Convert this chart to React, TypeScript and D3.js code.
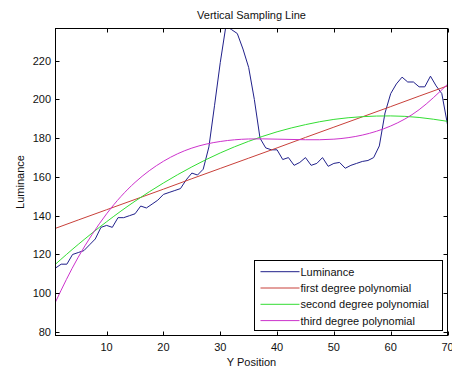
import React from "react";
import * as d3 from "d3";

// Luminance sampled along the vertical line, one value per Y position (1..70)
const luminance = [
  113, 115, 115, 120, 121, 122, 125, 128, 134, 135,
  134, 139, 139, 140, 141, 145, 144, 146, 148, 151,
  152, 153, 154, 158.5, 162, 161, 164, 175.5, 197, 219,
  238, 236, 234, 226, 216.5, 200, 180, 175, 174, 174,
  169, 170, 166, 167.5, 170, 166, 167, 170, 165.5, 167,
  167.5, 164.5, 166, 167, 168, 168.5, 170, 176, 193, 203,
  208, 211.5, 209, 209, 206.5, 206.5, 212, 207, 203, 187,
];
const positions = luminance.map((_, i) => i + 1);

// Fitted curves, evaluated at these positions
const fitPositions = [1, 5, 10, 15, 20, 25, 30, 35, 40, 45, 50, 55, 60, 65, 70];
const firstDegree = [133.5, 137.8, 143.1, 148.4, 153.7, 159.1, 164.4, 169.7, 175, 180.4, 185.7, 191, 196.3, 201.7, 207];
const secondDegree = [115, 125.2, 136.9, 147.5, 156.9, 165.2, 172.4, 178.4, 183.3, 187, 189.7, 191.1, 191.5, 190.7, 188.7];
const thirdDegree = [95.5, 118.6, 141, 157.2, 168.1, 174.9, 178.3, 179.6, 179.5, 179.2, 179.5, 181.6, 186.3, 194.7, 207.8];

const xTicks = [10, 20, 30, 40, 50, 60, 70];
const yTicks = [80, 100, 120, 140, 160, 180, 200, 220];

const seriesNames = ["Luminance", "first degree polynomial", "second degree polynomial", "third degree polynomial"];
const seriesColors = ["#20208a", "#c8403a", "#33dd33", "#cc33cc"];

const W = 452;
const H = 371;
const left = 55.5;
const right = 447.5;
const top = 28.5;
const bottom = 335.5;
const font = "'Liberation Sans', Arial, sans-serif";

export default function App() {
  const x = d3.scaleLinear().domain([1, 70]).range([left, right]);
  const y = d3.scaleLinear().domain([78.2, 236.6]).range([bottom, top]);

  const line = d3
    .line<[number, number]>()
    .x((d) => x(d[0]))
    .y((d) => y(d[1]));
  const smooth = d3
    .line<[number, number]>()
    .x((d) => x(d[0]))
    .y((d) => y(d[1]))
    .curve(d3.curveNatural);

  const lumPts = positions.map((p, i) => [p, luminance[i]] as [number, number]);
  const fit = (vals: number[]) => fitPositions.map((p, i) => [p, vals[i]] as [number, number]);

  const paths = [
    line(lumPts),
    line(fit(firstDegree)),
    smooth(fit(secondDegree)),
    smooth(fit(thirdDegree)),
  ];

  const tickLen = 4;
  const legX = 254.5;
  const legY = 260.5;
  const legW = 188;
  const legH = 70;
  const rowY = [271.7, 288, 304.3, 320.6];

  return (
    <svg
      width={W}
      height={H}
      style={{ position: "fixed", left: 0, top: 0, background: "#fff" }}
      fontFamily={font}
    >
      <rect x={0} y={0} width={W} height={H} fill="#fff" />
      <defs>
        <clipPath id="plot-area">
          <rect x={left} y={top} width={right - left} height={bottom - top} />
        </clipPath>
      </defs>

      <g clipPath="url(#plot-area)" fill="none" strokeWidth={1}>
        {paths.map((d, i) => (
          <path key={i} d={d ?? ""} stroke={seriesColors[i]} />
        ))}
      </g>

      {/* axes box */}
      <rect x={left} y={top} width={right - left} height={bottom - top} fill="none" stroke="#000" strokeWidth={1} />

      {/* x ticks (bottom and top, pointing inward) */}
      {xTicks.map((t) => {
        const px = Math.round(x(t)) + 0.5;
        return (
          <g key={"x" + t}>
            <line x1={px} x2={px} y1={bottom} y2={bottom - tickLen} stroke="#000" />
            <line x1={px} x2={px} y1={top} y2={top + tickLen} stroke="#000" />
            <text x={x(t)} y={351} fontSize={11} textAnchor="middle" fill="#111">
              {t}
            </text>
          </g>
        );
      })}

      {/* y ticks (left and right, pointing inward) */}
      {yTicks.map((t) => {
        const py = Math.round(y(t)) + 0.5;
        return (
          <g key={"y" + t}>
            <line x1={left} x2={left + tickLen} y1={py} y2={py} stroke="#000" />
            <line x1={right} x2={right - tickLen} y1={py} y2={py} stroke="#000" />
            <text x={51} y={y(t) + 4} fontSize={11} textAnchor="end" fill="#111">
              {t}
            </text>
          </g>
        );
      })}

      {/* titles */}
      <text x={(left + right) / 2} y={19} fontSize={11} textAnchor="middle" fill="#111">
        Vertical Sampling Line
      </text>
      <text x={(left + right) / 2} y={366} fontSize={11} textAnchor="middle" fill="#111">
        Y Position
      </text>
      <text
        transform={`translate(24, ${(top + bottom) / 2}) rotate(-90)`}
        fontSize={11}
        textAnchor="middle"
        fill="#111"
      >
        Luminance
      </text>

      {/* legend */}
      <rect x={legX} y={legY} width={legW} height={legH} fill="#fff" stroke="#000" strokeWidth={1} />
      {seriesNames.map((name, i) => (
        <g key={name}>
          <line x1={260.5} x2={299.5} y1={rowY[i]} y2={rowY[i]} stroke={seriesColors[i]} strokeWidth={1} />
          <text x={300.5} y={rowY[i] + 4} fontSize={11} fill="#111">
            {name}
          </text>
        </g>
      ))}
    </svg>
  );
}
